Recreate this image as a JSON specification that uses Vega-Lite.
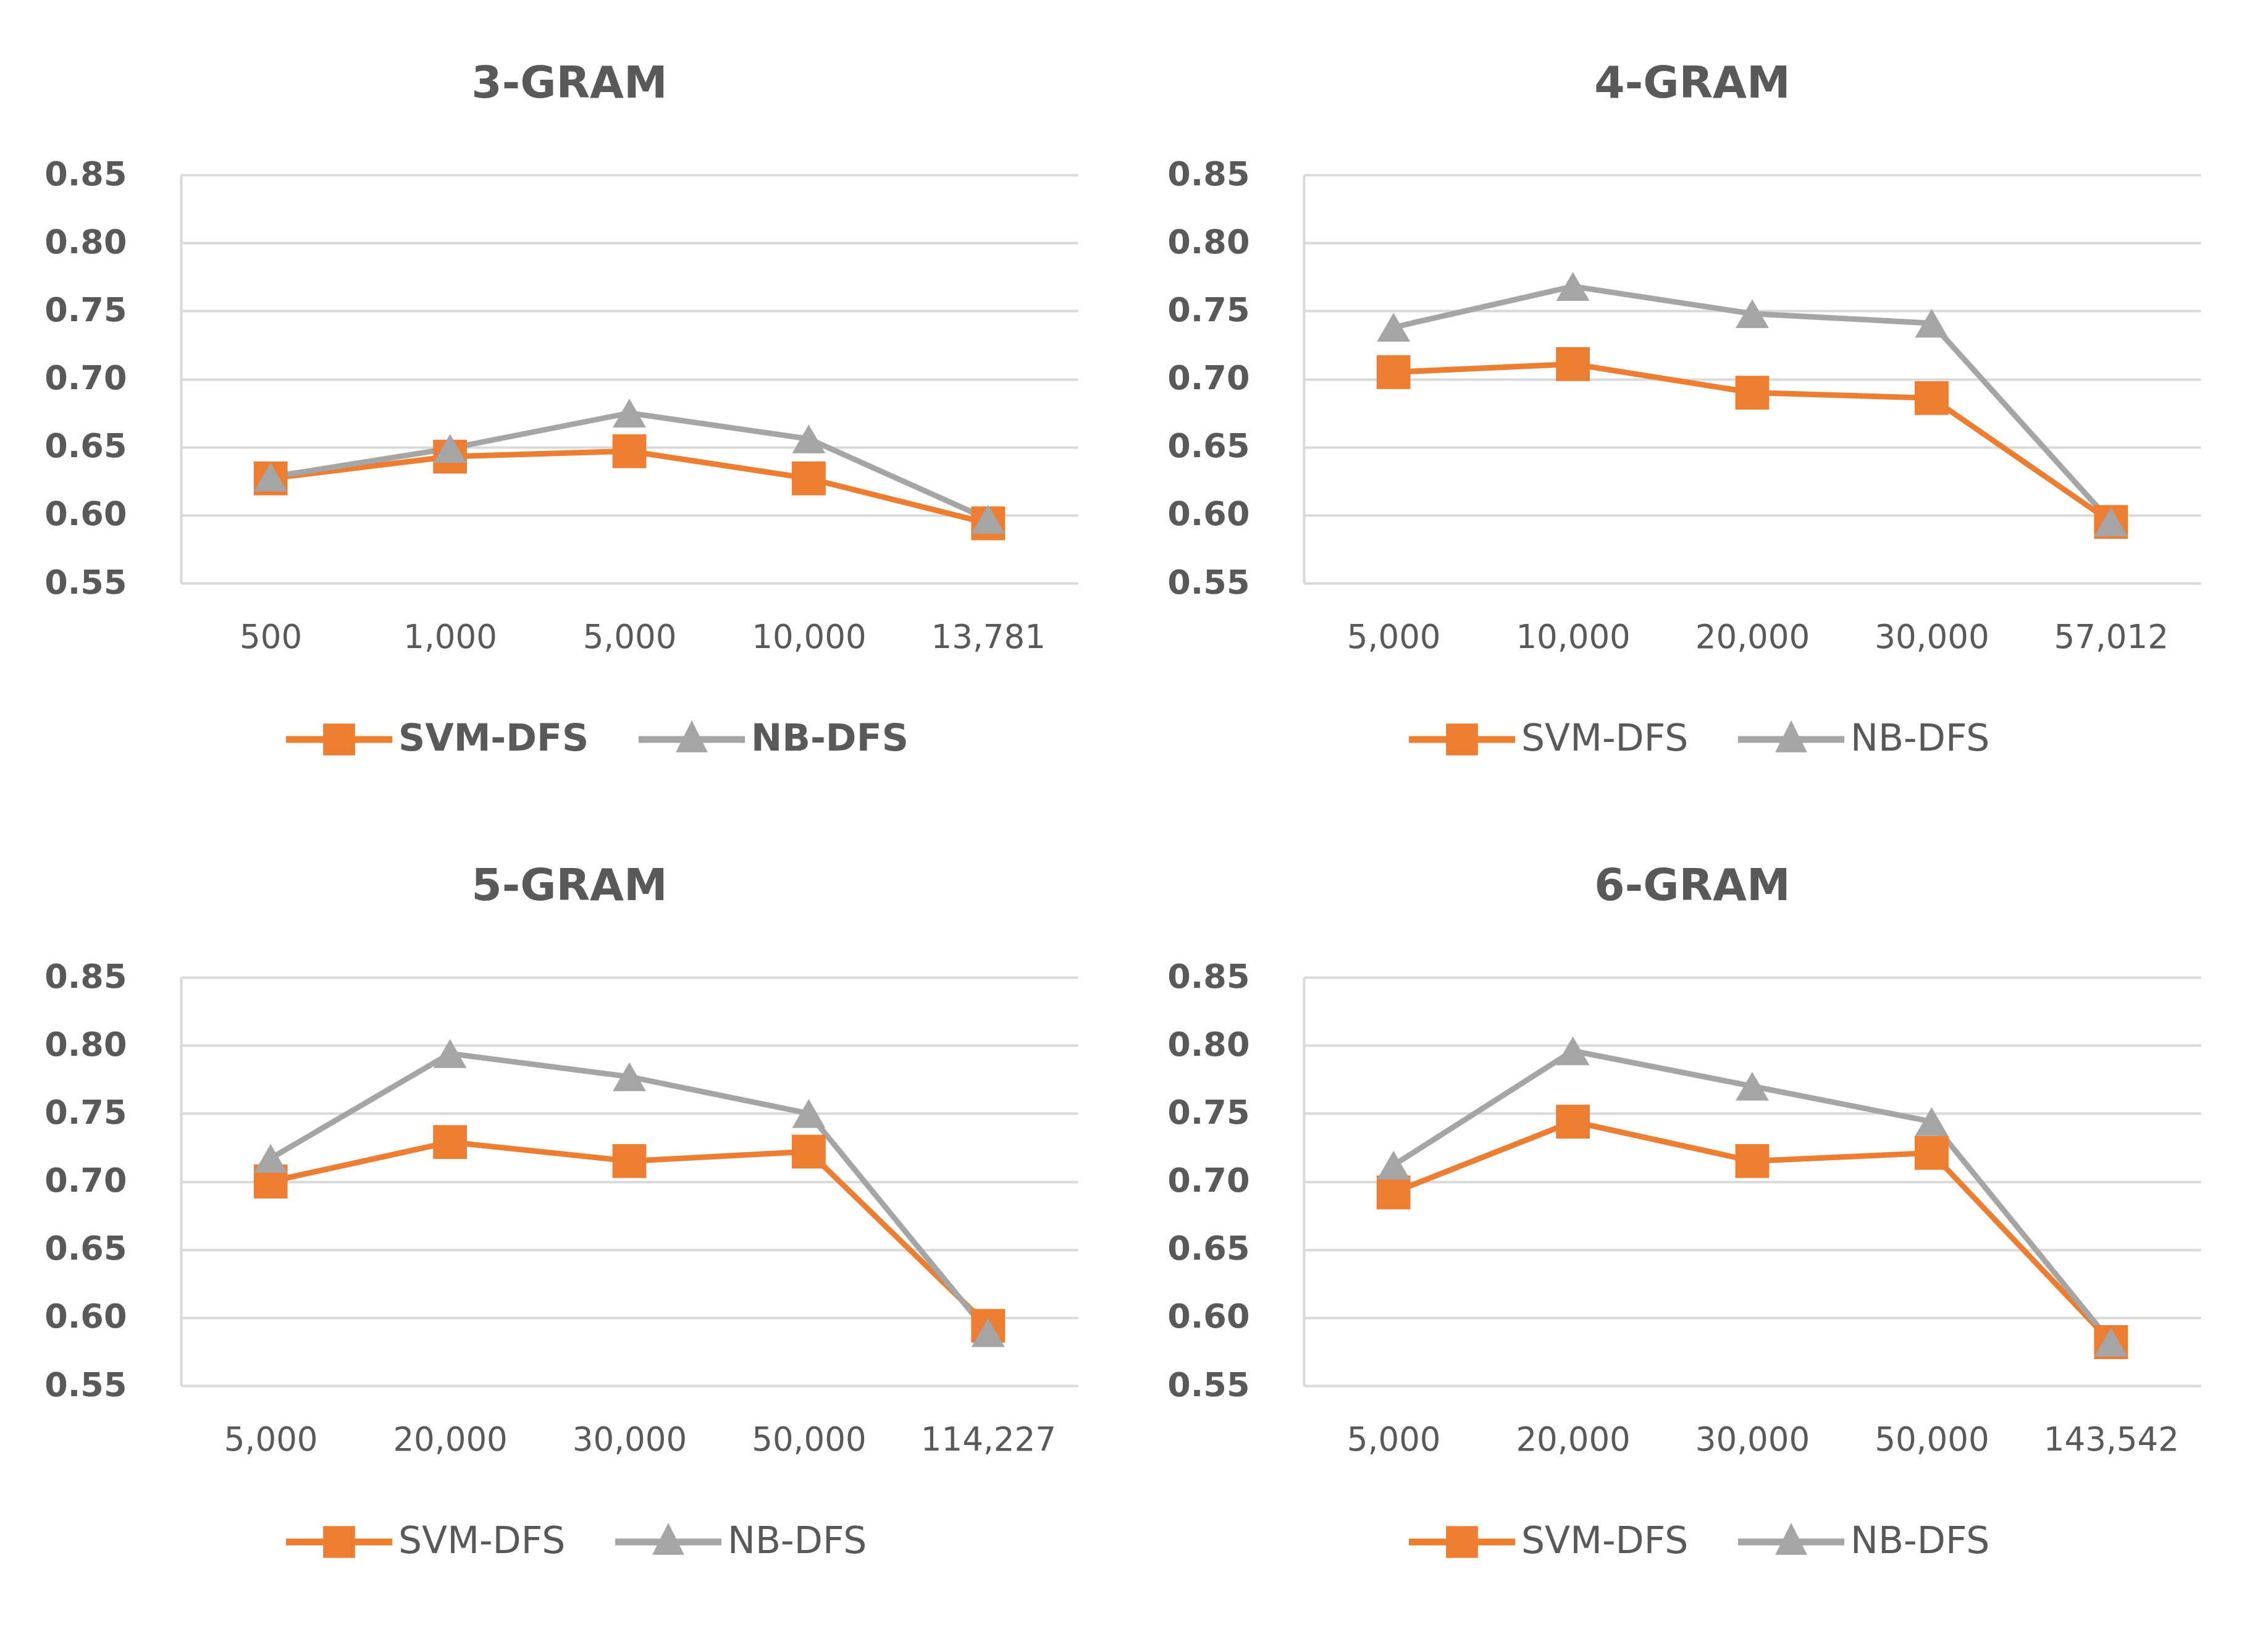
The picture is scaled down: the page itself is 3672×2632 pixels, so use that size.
{
  "$schema": "https://vega.github.io/schema/vega-lite/v6.json",
  "autosize": {"type": "none"},
  "padding": {"left": 293, "top": 283, "right": 3379, "bottom": 2349},
  "background": "white",
  "columns": 2,
  "spacing": {"row": 638, "column": 366},
  "bounds": "flush",
  "resolve": {
    "scale": {"x": "independent", "y": "independent", "color": "independent"},
    "axis": {"x": "independent", "y": "independent"},
    "legend": {"color": "independent"}
  },
  "concat": [
    {
      "title": {"text": "3-GRAM"},
      "width": 1452,
      "height": 661,
      "data": {"values": [
        {"x": "500", "series": "SVM-DFS", "y": 0.627},
        {"x": "1,000", "series": "SVM-DFS", "y": 0.643},
        {"x": "5,000", "series": "SVM-DFS", "y": 0.647},
        {"x": "10,000", "series": "SVM-DFS", "y": 0.627},
        {"x": "13,781", "series": "SVM-DFS", "y": 0.594},
        {"x": "500", "series": "NB-DFS", "y": 0.628},
        {"x": "1,000", "series": "NB-DFS", "y": 0.649},
        {"x": "5,000", "series": "NB-DFS", "y": 0.675},
        {"x": "10,000", "series": "NB-DFS", "y": 0.656},
        {"x": "13,781", "series": "NB-DFS", "y": 0.597}
      ]},
      "encoding": {
        "x": {"field": "x", "type": "ordinal", "sort": null, "title": null, "scale": {"type": "point", "padding": 0.5}},
        "y": {"field": "y", "type": "quantitative", "title": null, "scale": {"domain": [0.55, 0.85], "zero": false, "nice": false}, "axis": {"values": [0.55, 0.6, 0.65, 0.7, 0.75, 0.8, 0.85], "format": ".2f"}},
        "color": {"field": "series", "type": "nominal", "scale": {"domain": ["SVM-DFS", "NB-DFS"], "range": ["#ED7D31", "#A5A5A5"]},
          "legend": {"title": null, "labelFontWeight": "bold", "encode": {"symbols": {"update": {"shape": {"signal": "datum.value == 'SVM-DFS' ? 'M-1,-0.065H1V0.065H-1Z M-0.3,-0.3H0.3V0.3H-0.3Z' : 'M-1,-0.065H1V0.065H-1Z M0,-0.36L0.3,0.24H-0.3Z'"}, "fill": {"signal": "datum.value == 'SVM-DFS' ? '#ED7D31' : '#A5A5A5'"}, "stroke": {"value": "transparent"}, "size": {"value": 29584}, "strokeWidth": {"value": 0}, "opacity": {"value": 1}}}}}}
      },
      "layer": [
        {"mark": {"type": "line", "strokeWidth": 9}},
        {"transform": [{"filter": "datum.series == 'SVM-DFS'"}],
         "mark": {"type": "point", "shape": "square", "filled": true, "opacity": 1, "size": 3000, "strokeWidth": 0}},
        {"transform": [{"filter": "datum.series == 'NB-DFS'"}],
         "mark": {"type": "point", "shape": "triangle-up", "filled": true, "opacity": 1, "size": 2900, "strokeWidth": 0}}
      ]
    },
    {
      "title": {"text": "4-GRAM"},
      "width": 1452,
      "height": 661,
      "data": {"values": [
        {"x": "5,000", "series": "SVM-DFS", "y": 0.705},
        {"x": "10,000", "series": "SVM-DFS", "y": 0.711},
        {"x": "20,000", "series": "SVM-DFS", "y": 0.690},
        {"x": "30,000", "series": "SVM-DFS", "y": 0.686},
        {"x": "57,012", "series": "SVM-DFS", "y": 0.595},
        {"x": "5,000", "series": "NB-DFS", "y": 0.738},
        {"x": "10,000", "series": "NB-DFS", "y": 0.768},
        {"x": "20,000", "series": "NB-DFS", "y": 0.748},
        {"x": "30,000", "series": "NB-DFS", "y": 0.741},
        {"x": "57,012", "series": "NB-DFS", "y": 0.595}
      ]},
      "encoding": {
        "x": {"field": "x", "type": "ordinal", "sort": null, "title": null, "scale": {"type": "point", "padding": 0.5}},
        "y": {"field": "y", "type": "quantitative", "title": null, "scale": {"domain": [0.55, 0.85], "zero": false, "nice": false}, "axis": {"values": [0.55, 0.6, 0.65, 0.7, 0.75, 0.8, 0.85], "format": ".2f"}},
        "color": {"field": "series", "type": "nominal", "scale": {"domain": ["SVM-DFS", "NB-DFS"], "range": ["#ED7D31", "#A5A5A5"]},
          "legend": {"title": null, "encode": {"symbols": {"update": {"shape": {"signal": "datum.value == 'SVM-DFS' ? 'M-1,-0.065H1V0.065H-1Z M-0.3,-0.3H0.3V0.3H-0.3Z' : 'M-1,-0.065H1V0.065H-1Z M0,-0.36L0.3,0.24H-0.3Z'"}, "fill": {"signal": "datum.value == 'SVM-DFS' ? '#ED7D31' : '#A5A5A5'"}, "stroke": {"value": "transparent"}, "size": {"value": 29584}, "strokeWidth": {"value": 0}, "opacity": {"value": 1}}}}}}
      },
      "layer": [
        {"mark": {"type": "line", "strokeWidth": 9}},
        {"transform": [{"filter": "datum.series == 'SVM-DFS'"}],
         "mark": {"type": "point", "shape": "square", "filled": true, "opacity": 1, "size": 3000, "strokeWidth": 0}},
        {"transform": [{"filter": "datum.series == 'NB-DFS'"}],
         "mark": {"type": "point", "shape": "triangle-up", "filled": true, "opacity": 1, "size": 2900, "strokeWidth": 0}}
      ]
    },
    {
      "title": {"text": "5-GRAM"},
      "width": 1452,
      "height": 661,
      "data": {"values": [
        {"x": "5,000", "series": "SVM-DFS", "y": 0.700},
        {"x": "20,000", "series": "SVM-DFS", "y": 0.729},
        {"x": "30,000", "series": "SVM-DFS", "y": 0.715},
        {"x": "50,000", "series": "SVM-DFS", "y": 0.722},
        {"x": "114,227", "series": "SVM-DFS", "y": 0.594},
        {"x": "5,000", "series": "NB-DFS", "y": 0.717},
        {"x": "20,000", "series": "NB-DFS", "y": 0.794},
        {"x": "30,000", "series": "NB-DFS", "y": 0.777},
        {"x": "50,000", "series": "NB-DFS", "y": 0.750},
        {"x": "114,227", "series": "NB-DFS", "y": 0.589}
      ]},
      "encoding": {
        "x": {"field": "x", "type": "ordinal", "sort": null, "title": null, "scale": {"type": "point", "padding": 0.5}},
        "y": {"field": "y", "type": "quantitative", "title": null, "scale": {"domain": [0.55, 0.85], "zero": false, "nice": false}, "axis": {"values": [0.55, 0.6, 0.65, 0.7, 0.75, 0.8, 0.85], "format": ".2f"}},
        "color": {"field": "series", "type": "nominal", "scale": {"domain": ["SVM-DFS", "NB-DFS"], "range": ["#ED7D31", "#A5A5A5"]},
          "legend": {"title": null, "encode": {"symbols": {"update": {"shape": {"signal": "datum.value == 'SVM-DFS' ? 'M-1,-0.065H1V0.065H-1Z M-0.3,-0.3H0.3V0.3H-0.3Z' : 'M-1,-0.065H1V0.065H-1Z M0,-0.36L0.3,0.24H-0.3Z'"}, "fill": {"signal": "datum.value == 'SVM-DFS' ? '#ED7D31' : '#A5A5A5'"}, "stroke": {"value": "transparent"}, "size": {"value": 29584}, "strokeWidth": {"value": 0}, "opacity": {"value": 1}}}}}}
      },
      "layer": [
        {"mark": {"type": "line", "strokeWidth": 9}},
        {"transform": [{"filter": "datum.series == 'SVM-DFS'"}],
         "mark": {"type": "point", "shape": "square", "filled": true, "opacity": 1, "size": 3000, "strokeWidth": 0}},
        {"transform": [{"filter": "datum.series == 'NB-DFS'"}],
         "mark": {"type": "point", "shape": "triangle-up", "filled": true, "opacity": 1, "size": 2900, "strokeWidth": 0}}
      ]
    },
    {
      "title": {"text": "6-GRAM"},
      "width": 1452,
      "height": 661,
      "data": {"values": [
        {"x": "5,000", "series": "SVM-DFS", "y": 0.692},
        {"x": "20,000", "series": "SVM-DFS", "y": 0.744},
        {"x": "30,000", "series": "SVM-DFS", "y": 0.715},
        {"x": "50,000", "series": "SVM-DFS", "y": 0.721},
        {"x": "143,542", "series": "SVM-DFS", "y": 0.582},
        {"x": "5,000", "series": "NB-DFS", "y": 0.712},
        {"x": "20,000", "series": "NB-DFS", "y": 0.796},
        {"x": "30,000", "series": "NB-DFS", "y": 0.770},
        {"x": "50,000", "series": "NB-DFS", "y": 0.744},
        {"x": "143,542", "series": "NB-DFS", "y": 0.582}
      ]},
      "encoding": {
        "x": {"field": "x", "type": "ordinal", "sort": null, "title": null, "scale": {"type": "point", "padding": 0.5}},
        "y": {"field": "y", "type": "quantitative", "title": null, "scale": {"domain": [0.55, 0.85], "zero": false, "nice": false}, "axis": {"values": [0.55, 0.6, 0.65, 0.7, 0.75, 0.8, 0.85], "format": ".2f"}},
        "color": {"field": "series", "type": "nominal", "scale": {"domain": ["SVM-DFS", "NB-DFS"], "range": ["#ED7D31", "#A5A5A5"]},
          "legend": {"title": null, "encode": {"symbols": {"update": {"shape": {"signal": "datum.value == 'SVM-DFS' ? 'M-1,-0.065H1V0.065H-1Z M-0.3,-0.3H0.3V0.3H-0.3Z' : 'M-1,-0.065H1V0.065H-1Z M0,-0.36L0.3,0.24H-0.3Z'"}, "fill": {"signal": "datum.value == 'SVM-DFS' ? '#ED7D31' : '#A5A5A5'"}, "stroke": {"value": "transparent"}, "size": {"value": 29584}, "strokeWidth": {"value": 0}, "opacity": {"value": 1}}}}}}
      },
      "layer": [
        {"mark": {"type": "line", "strokeWidth": 9}},
        {"transform": [{"filter": "datum.series == 'SVM-DFS'"}],
         "mark": {"type": "point", "shape": "square", "filled": true, "opacity": 1, "size": 3000, "strokeWidth": 0}},
        {"transform": [{"filter": "datum.series == 'NB-DFS'"}],
         "mark": {"type": "point", "shape": "triangle-up", "filled": true, "opacity": 1, "size": 2900, "strokeWidth": 0}}
      ]
    }
  ],
  "config": {
    "view": {"stroke": null},
    "font": "DejaVu Sans",
    "axis": {"ticks": false, "domainColor": "#D9D9D9", "domainWidth": 4, "gridColor": "#D9D9D9", "gridWidth": 4, "labelColor": "#595959", "labelLimit": 600},
    "axisX": {"domain": false, "grid": false, "labelFont": "DejaVu Sans", "labelFontSize": 53, "labelPadding": 62, "labelAngle": 0},
    "axisY": {"domain": true, "grid": true, "labelFont": "DejaVu Sans", "labelFontSize": 54, "labelFontWeight": "bold", "labelPadding": 88},
    "legend": {"orient": "none", "legendX": 170, "legendY": 828, "direction": "horizontal", "labelFont": "DejaVu Sans", "labelFontSize": 60, "labelColor": "#595959", "labelLimit": 600, "symbolSize": 29584, "labelOffset": 10, "columnPadding": 80},
    "title": {"font": "DejaVu Sans", "fontSize": 71, "fontWeight": "bold", "color": "#595959", "anchor": "middle", "baseline": "middle", "offset": 83, "dx": -97}
  }
}
